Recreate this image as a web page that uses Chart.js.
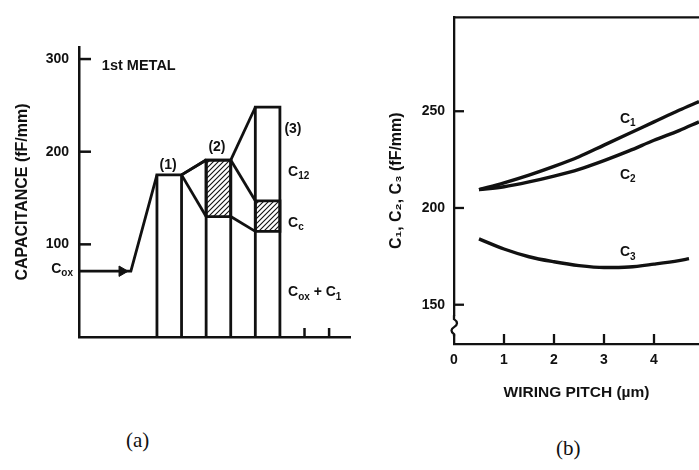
<!DOCTYPE html>
<html>
<head>
<meta charset="utf-8">
<script src="https://cdn.jsdelivr.net/npm/chart.js@4.4.0/dist/chart.umd.min.js"></script>
<style>
  body { margin: 0; background: #fff; }
  #page { position: relative; width: 699px; height: 470px; background: #fff; overflow: hidden; }
  #boxA { position: absolute; left: 0; top: 0; width: 360px; height: 400px; }
  #boxB { position: absolute; left: 360px; top: 0; width: 339px; height: 420px; }
  .cap { position: absolute; font: 21px "Liberation Serif", serif; color: #111; }
</style>
</head>
<body>
<div id="page">
  <div id="boxA"><canvas id="capA" width="360" height="400"></canvas></div>
  <div id="boxB"><canvas id="capB" width="339" height="420"></canvas></div>
  <div class="cap" style="left:126px; top:428px;">(a)</div>
  <div class="cap" style="left:556px; top:436px;">(b)</div>
</div>
<script>
// (a) capacitance of the 1st metal line, stacked per case
var caseLabels = ['(1)', '(2)', '(3)'];
var oxPlusC1 = [175, 130, 114];
var couplingCc = [0, 61, 33];
var interC12 = [0, 0, 101];
var coxLevel = 71;
var ticksA = [100, 200, 300];

// (b) capacitance vs wiring pitch
var pitch = [0.5, 1, 1.5, 2, 2.5, 3, 3.5, 4, 4.5, 4.9];
var c1 = [209.5, 213, 217, 221.5, 226.5, 232.5, 238.5, 244.5, 250.5, 255];
var c2 = [209.5, 211, 213.5, 216.5, 220, 224.5, 229.5, 235, 240, 244.5];
var pitchC3 = [0.5, 1, 1.5, 2, 2.5, 3, 3.5, 4, 4.5, 4.7];
var c3 = [184, 178.8, 174.8, 172.2, 170.2, 169.2, 169.5, 171, 172.8, 173.8];
var ticksBy = [150, 200, 250];
var ticksBx = [0, 1, 2, 3, 4];

var ink = '#111';
var sans = '"Liberation Sans", Arial, sans-serif';
Chart.defaults.font.family = sans;
Chart.defaults.color = ink;

function drawParts(ctx, parts, x, y, size, align) {
  var big = 'bold ' + size + 'px ' + sans;
  var small = 'bold ' + Math.round(size * 0.72) + 'px ' + sans;
  var w = 0;
  parts.forEach(function (p) { ctx.font = p[1] ? small : big; w += ctx.measureText(p[0]).width; });
  var cx = align === 'right' ? x - w : align === 'center' ? x - w / 2 : x;
  ctx.textBaseline = 'middle';
  ctx.textAlign = 'left';
  ctx.fillStyle = ink;
  parts.forEach(function (p) {
    ctx.font = p[1] ? small : big;
    ctx.fillText(p[0], cx, p[1] ? y + size * 0.32 : y);
    cx += ctx.measureText(p[0]).width;
  });
}

function tickLine(ctx, x0, y0, x1, y1) {
  ctx.beginPath();
  ctx.moveTo(x0, y0);
  ctx.lineTo(x1, y1);
  ctx.stroke();
}

// ---------- panel (a) ----------
var ctxA = document.getElementById('capA').getContext('2d');
var tile = document.createElement('canvas');
tile.width = 5; tile.height = 5;
var tg = tile.getContext('2d');
tg.strokeStyle = ink; tg.lineWidth = 1.1;
tg.beginPath();
tg.moveTo(0, 5); tg.lineTo(5, 0);
tg.moveTo(-1, 1); tg.lineTo(1, -1);
tg.moveTo(4, 6); tg.lineTo(6, 4);
tg.stroke();
var hatch = ctxA.createPattern(tile, 'repeat');

var xMinA = -3.17, xMaxA = 7.85;
var levels = oxPlusC1.map(function (v, i) {
  return [v, v + couplingCc[i], v + couplingCc[i] + interC12[i]];
});

function lineSet(pts, extra) {
  var d = {
    data: pts, borderColor: ink, borderWidth: 2.8, pointRadius: 0,
    tension: 0, fill: false, borderJoinStyle: 'miter'
  };
  for (var k in extra) d[k] = extra[k];
  return d;
}

var dsA = [];
levels.forEach(function (lv, i) {
  var x0 = 2 * i, x1 = 2 * i + 1;
  if (couplingCc[i] > 0) {
    dsA.push(lineSet([{x: x0, y: lv[0]}, {x: x0, y: lv[1]}, {x: x1, y: lv[1]}, {x: x1, y: lv[0]}, {x: x0, y: lv[0]}],
      {fill: 'shape', backgroundColor: hatch}));
  }
  dsA.push(lineSet([{x: x0, y: 0}, {x: x0, y: lv[2]}, {x: x1, y: lv[2]}, {x: x1, y: 0}]));
  if (i < levels.length - 1) {
    for (var k = 0; k < 3; k++) {
      dsA.push(lineSet([{x: x1, y: lv[k]}, {x: x1 + 1, y: levels[i + 1][k]}]));
    }
  }
});
dsA.push(lineSet([{x: xMinA, y: coxLevel}, {x: -1.06, y: coxLevel}, {x: 0, y: levels[0][2]}]));
dsA.push({data: [{x: -1.42, y: coxLevel}], showLine: false, pointStyle: 'triangle', rotation: 90,
  pointRadius: 6, backgroundColor: ink, borderColor: ink, borderWidth: 1});

var marksA = {
  id: 'marksA',
  afterDraw: function (chart) {
    var ctx = chart.ctx, x = chart.scales.x, y = chart.scales.y, a = chart.chartArea;
    ctx.save();
    ctx.strokeStyle = ink; ctx.lineWidth = 2.5;
    ticksA.forEach(function (v) { var p = y.getPixelForValue(v); tickLine(ctx, a.left, p, a.left + 12, p); });
    [6, 7].forEach(function (v) { var p = x.getPixelForValue(v); tickLine(ctx, p, a.bottom, p, a.bottom - 9); });
    drawParts(ctx, [['1st METAL', false]], x.getPixelForValue(-2.24), y.getPixelForValue(292), 14.5, 'left');
    var capPos = [[0.45, 186], [2.44, 205], [5.53, 224]];
    caseLabels.forEach(function (t, i) {
      drawParts(ctx, [[t, false]], x.getPixelForValue(capPos[i][0]), y.getPixelForValue(capPos[i][1]), 14, 'center');
    });
    var lx = x.getPixelForValue(5.33);
    drawParts(ctx, [['C', false], ['12', true]], lx, y.getPixelForValue(178), 14, 'left');
    drawParts(ctx, [['C', false], ['c', true]], lx, y.getPixelForValue(123), 14, 'left');
    drawParts(ctx, [['C', false], ['ox', true], [' + C', false], ['1', true]], lx, y.getPixelForValue(48), 14, 'left');
    drawParts(ctx, [['C', false], ['ox', true]], a.left - 6, y.getPixelForValue(coxLevel) - 2, 14, 'right');
    ctx.restore();
  }
};

new Chart(ctxA, {
  type: 'line',
  data: {datasets: dsA},
  options: {
    responsive: false, animation: false, devicePixelRatio: 1, events: [],
    layout: {padding: {top: 47, right: 10, bottom: 0, left: 0}},
    plugins: {legend: {display: false}, tooltip: {enabled: false}},
    scales: {
      x: {
        type: 'linear', min: xMinA, max: xMaxA,
        grid: {display: false, drawTicks: false},
        border: {display: true, color: ink, width: 2.5},
        ticks: {display: false},
        afterFit: function (s) { s.height = 63; }
      },
      y: {
        min: 0, max: 313,
        grid: {display: false, drawTicks: false},
        border: {display: true, color: ink, width: 2.5},
        afterBuildTicks: function (s) { s.ticks = ticksA.map(function (v) { return {value: v}; }); },
        ticks: {padding: 10, color: ink, font: {size: 14, weight: 'bold'}},
        title: {display: true, text: 'CAPACITANCE (fF/mm)', color: ink, font: {size: 16, weight: 'bold'}, padding: {top: 13, bottom: 0}},
        afterFit: function (s) { s.width = 79; }
      }
    }
  },
  plugins: [marksA]
});

// ---------- panel (b) ----------
function pts(xs, ys) { return xs.map(function (v, i) { return {x: v, y: ys[i]}; }); }
function curve(d) {
  return {data: d, borderColor: ink, borderWidth: 3.4, pointRadius: 0, cubicInterpolationMode: 'monotone', fill: false};
}

var marksB = {
  id: 'marksB',
  afterDraw: function (chart) {
    var ctx = chart.ctx, x = chart.scales.x, y = chart.scales.y, a = chart.chartArea;
    ctx.save();
    ctx.strokeStyle = ink; ctx.lineWidth = 2.3;
    tickLine(ctx, a.left - 1, a.top, a.right, a.top);
    ticksBy.forEach(function (v) { var p = y.getPixelForValue(v); tickLine(ctx, a.left, p, a.left + 10, p); });
    ticksBx.slice(1).forEach(function (v) { var p = x.getPixelForValue(v); tickLine(ctx, p, a.bottom, p, a.bottom - 10); });
    // axis break
    var b0 = y.getPixelForValue(141);
    ctx.fillStyle = '#fff';
    ctx.fillRect(a.left - 6, b0 - 6, 12, 18);
    ctx.beginPath();
    ctx.moveTo(a.left, b0 - 7);
    ctx.lineTo(a.left, b0 - 3);
    ctx.quadraticCurveTo(a.left + 6, b0 + 1, a.left, b0 + 5);
    ctx.quadraticCurveTo(a.left - 5, b0 + 8, a.left, b0 + 12);
    ctx.lineTo(a.left, b0 + 14);
    ctx.stroke();
    var lx = x.getPixelForValue(3.32);
    drawParts(ctx, [['C', false], ['1', true]], lx, y.getPixelForValue(246), 14, 'left');
    drawParts(ctx, [['C', false], ['2', true]], lx, y.getPixelForValue(217), 14, 'left');
    drawParts(ctx, [['C', false], ['3', true]], lx, y.getPixelForValue(177), 14, 'left');
    ctx.restore();
  }
};

new Chart(document.getElementById('capB'), {
  type: 'line',
  data: {datasets: [curve(pts(pitch, c1)), curve(pts(pitch, c2)), curve(pts(pitchC3, c3))]},
  options: {
    responsive: false, animation: false, devicePixelRatio: 1, events: [],
    layout: {padding: {top: 15, right: 0, bottom: 0, left: 0}},
    plugins: {legend: {display: false}, tooltip: {enabled: false}},
    scales: {
      x: {
        type: 'linear', min: 0, max: 4.9,
        grid: {display: false, drawTicks: false},
        border: {display: true, color: ink, width: 2.3},
        afterBuildTicks: function (s) { s.ticks = ticksBx.map(function (v) { return {value: v}; }); },
        ticks: {padding: 8, color: ink, font: {size: 14, weight: 'bold'}},
        title: {display: true, text: 'WIRING PITCH (µm)', color: ink, font: {size: 15.5, weight: 'bold'}, padding: {top: 0, bottom: 18}},
        afterFit: function (s) { s.height = 76; }
      },
      y: {
        min: 129.7, max: 298.5,
        grid: {display: false, drawTicks: false},
        border: {display: true, color: ink, width: 2.3},
        afterBuildTicks: function (s) { s.ticks = ticksBy.map(function (v) { return {value: v}; }); },
        ticks: {padding: 9, color: ink, font: {size: 14, weight: 'bold'}},
        title: {display: true, text: 'C\u2081, C\u2082, C\u2083 (fF/mm)', color: ink, font: {size: 16, weight: 'bold'}, padding: {top: 27, bottom: 0}},
        afterFit: function (s) { s.width = 94; }
      }
    }
  },
  plugins: [marksB]
});
</script>
</body>
</html>
